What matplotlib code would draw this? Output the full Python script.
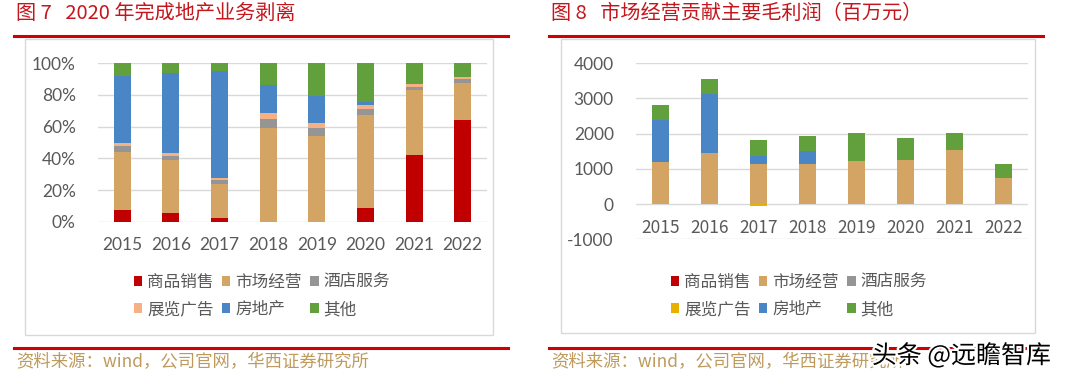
import matplotlib
matplotlib.use("Agg")
import matplotlib.pyplot as plt
import numpy as np
from matplotlib.patches import Patch, Rectangle
from matplotlib.lines import Line2D
import matplotlib.patheffects as pe

plt.rcParams['font.family'] = ['Noto Sans CJK SC', 'DejaVu Sans']

years = ["2015", "2016", "2017", "2018", "2019", "2020", "2021", "2022"]
series_names = ["商品销售", "市场经营", "酒店服务", "展览广告", "房地产", "其他"]

# Figure 7: share of revenue (%)
share_goods = [7.5, 5.5, 2.5, 0, 0, 9, 42, 64]
share_market = [36.5, 33.5, 21.5, 59, 54, 58.5, 41, 23.5]
share_hotel = [4, 2.5, 2.5, 6, 5, 3.5, 2, 2.5]
share_expo = [1.5, 2, 1, 3.5, 3.5, 2.5, 1.5, 1.2]
share_estate = [42.5, 50, 67.5, 17.5, 17, 2, 0, 0]
share_other = [8, 6.5, 5, 14, 20.5, 24.5, 13.5, 8.8]

# Figure 8: gross profit (million yuan)
gp_goods = [0, 0, 0, 0, 0, 0, 0, 0]
gp_market = [1190, 1450, 1145, 1145, 1230, 1240, 1540, 755]
gp_hotel = [0, 0, 0, 0, 0, 0, 0, 0]
gp_expo = [0, 0, -60, 0, 0, 0, 0, 0]
gp_estate = [1200, 1680, 225, 350, 0, 0, 0, 0]
gp_other = [420, 435, 455, 445, 785, 640, 475, 390]

left_colors = ["#C00000", "#D4A465", "#959595", "#F5B183", "#4A86C5", "#62A03E"]
right_colors = ["#C00000", "#D4A465", "#959595", "#E8B100", "#4A86C5", "#62A03E"]

W, H = 1080, 384
fig = plt.figure(figsize=(W / 100, H / 100), dpi=100)

def fx(px):
    return px / W

def fy(py):
    return 1 - py / H

title_color = "#C4161C"
src_color = "#BE9A5C"
txt_gray = "#595959"
grid_c = "#D9D9D9"

# Frames, titles, rules
for (x0, x1, bx0, bx1, btop, bbot, title) in [
    (14, 508, 25, 493, 39, 335, "图 7   2020 年完成地产业务剥离"),
    (549, 1043, 561, 1035, 39, 333, "图 8   市场经营贡献主要毛利润（百万元）"),
]:
    fig.add_artist(Line2D([fx(x0), fx(x1)], [fy(35.5), fy(35.5)], color="#D00000", lw=2.2))
    fig.add_artist(Line2D([fx(x0), fx(x1)], [fy(347.5), fy(347.5)], color="#D00000", lw=2.2))
    fig.add_artist(Rectangle((fx(bx0), fy(bbot)), fx(bx1) - fx(bx0), fy(btop) - fy(bbot),
                             transform=fig.transFigure, fill=False, edgecolor="#D9D9D9", lw=1))
    fig.text(fx(x0 + 2), fy(13), title, color=title_color, fontsize=14.5, va="center", ha="left")
    fig.text(fx(x0 + 2), fy(362), "资料来源：wind，公司官网，华西证券研究所", color=src_color,
             fontsize=12.5, va="center", ha="left")

x = np.arange(len(years))
bw = 0.35

def stacked(ax, data, colors):
    pos = np.zeros(len(years))
    neg = np.zeros(len(years))
    handles = []
    for vals, c in zip(data, colors):
        v = np.array(vals, dtype=float)
        bottom = np.where(v >= 0, pos, neg)
        ax.bar(x, v, bw, bottom=bottom, color=c, zorder=3)
        pos = pos + np.where(v >= 0, v, 0)
        neg = neg + np.where(v < 0, v, 0)
        handles.append(Patch(facecolor=c, edgecolor="none"))
    return handles

def style(ax):
    for s in ax.spines.values():
        s.set_visible(False)
    ax.yaxis.grid(True, color=grid_c, lw=1, zorder=0)
    ax.set_axisbelow(True)
    ax.tick_params(axis="both", length=0, labelsize=12.5, colors=txt_gray)
    ax.set_xlim(-0.5, 7.5)
    for lab in ax.get_xticklabels() + ax.get_yticklabels():
        lab.set_fontfamily(["Lato", "DejaVu Sans"])

def add_legend(ax, handles, cx):
    order = [0, 3, 1, 4, 2, 5]
    leg = fig.legend([handles[i] for i in order], [series_names[i] for i in order],
                     loc="center", bbox_to_anchor=(fx(cx), fy(296)), ncol=3, frameon=False,
                     fontsize=12, handlelength=0.5, handleheight=0.5, handletextpad=0.3,
                     columnspacing=0.5, labelspacing=0.6, labelcolor=txt_gray,
                     borderaxespad=0, borderpad=0)
    return leg

# Left chart
ax1 = fig.add_axes([fx(98), fy(222), fx(487) - fx(98), fy(63) - fy(222)])
h1 = stacked(ax1, [np.array(s) / 100 for s in [share_goods, share_market, share_hotel,
                                               share_expo, share_estate, share_other]], left_colors)
ax1.set_ylim(0, 1)
ax1.set_yticks(np.arange(0, 1.01, 0.2))
ax1.set_yticklabels([f"{int(round(v * 100))}%" for v in np.arange(0, 1.01, 0.2)])
ax1.set_xticks(x)
ax1.set_xticklabels(years)
style(ax1)
ax1.tick_params(axis="x", pad=11)
ax1.tick_params(axis="y", pad=16)
add_legend(ax1, h1, 262)

# Right chart
ax2 = fig.add_axes([fx(636), fy(239.3), fx(1028) - fx(636), fy(63.3) - fy(239.3)])
h2 = stacked(ax2, [gp_goods, gp_market, gp_hotel, gp_expo, gp_estate, gp_other], right_colors)
ax2.set_ylim(-1000, 4000)
ax2.set_yticks(np.arange(-1000, 4001, 1000))
ax2.set_yticklabels([str(v) for v in range(-1000, 4001, 1000)])
ax2.set_xticks(x)
ax2.set_xticklabels(years)
style(ax2)
ax2.spines["bottom"].set_position(("data", 0))
ax2.spines["bottom"].set_visible(False)
ax2.tick_params(axis="x", pad=11)
ax2.tick_params(axis="y", pad=16)
add_legend(ax2, h2, 799)

# Watermark
fig.text(fx(1051), fy(356), "头条 @远瞻智库", color="black", fontsize=18, ha="right", va="center",
         path_effects=[pe.withStroke(linewidth=3, foreground="white")])

fig.savefig("out.png", dpi=100)
